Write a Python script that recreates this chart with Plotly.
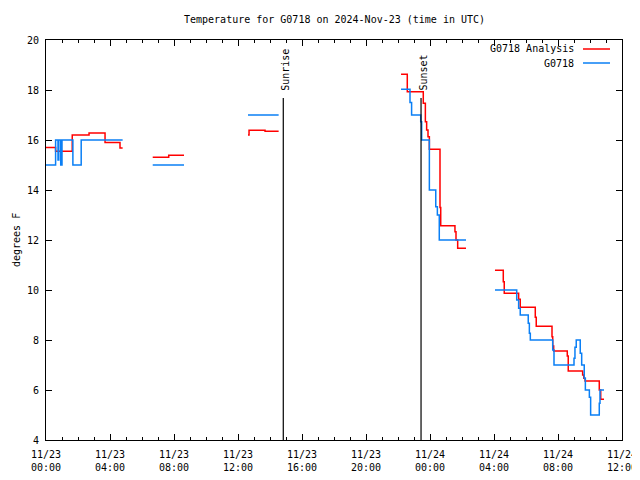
import plotly.graph_objects as go

# hours since 2024-11-23 00:00 UTC ; None separates gaps
analysis_t = [0.0, 0.6, 1.64, 2.69, 3.69, 4.625, 4.79, None,
              6.67, 7.67, 8.625, None,
              12.625, 12.69, 13.69, 14.54, None,
              22.19, 22.58, 23.58, 23.71, 23.79, 23.875, 23.96, 24.625, 24.67, 25.56, 25.625, 25.73, 26.25, None,
              28.06, 28.58, 28.64, 29.54, 29.64, 30.58, 30.64, 31.625, 31.67, 31.73, 32.58, 32.64, 33.54, 33.61, 33.69, 34.58, 34.67, 34.875]
analysis_v = [15.7, 15.55, 16.2, 16.28, 15.9, 15.68, 15.68, None,
              15.31, 15.39, 15.39, None,
              16.2, 16.39, 16.35, 16.35, None,
              18.63, 17.93, 17.47, 16.73, 16.4, 16.13, 15.63, 13.3, 12.57, 12.33, 12.0, 11.67, 11.67, None,
              10.79, 10.33, 9.87, 9.63, 9.31, 8.91, 8.55, 8.13, 7.76, 7.56, 7.36, 6.76, 6.6, 6.47, 6.36, 6.0, 5.63, 5.63]

obs_t = [0.0, 0.6, 0.75, 0.8, 0.92, 1.0, 1.68, 2.2, 4.79, None,
         6.67, 8.625, None,
         12.625, 14.54, None,
         22.19, 22.75, 22.85, 23.42, 23.48, 23.96, 24.36, 24.46, 24.58, 26.25, None,
         28.06, 29.42, 29.54, 29.64, 30.14, 30.21, 30.27, 31.67, 31.75, 33.0, 33.06, 33.14, 33.39, 33.48, 33.64, 33.71, 33.96, 34.04, 34.58, 34.625, 34.875]
obs_v = [15.0, 16.0, 15.2, 16.0, 15.0, 16.0, 15.0, 16.0, 16.0, None,
         15.0, 15.0, None,
         17.0, 17.0, None,
         18.03, 17.5, 17.0, 16.73, 16.0, 14.0, 13.33, 13.0, 12.0, 12.0, None,
         10.0, 9.6, 9.27, 9.0, 8.67, 8.27, 8.0, 7.6, 7.0, 7.27, 7.71, 8.0, 7.47, 7.0, 6.47, 6.0, 5.71, 5.0, 5.47, 6.0, 6.0]

sun_events = ["Sunrise", "Sunset"]
sun_times = [14.83, 23.44]
sun_line_top = 17.68

tick_hours = [0, 4, 8, 12, 16, 20, 24, 28, 32, 36]
tick_labels = ["11/23<br>00:00", "11/23<br>04:00", "11/23<br>08:00", "11/23<br>12:00",
               "11/23<br>16:00", "11/23<br>20:00", "11/24<br>00:00", "11/24<br>04:00",
               "11/24<br>08:00", "11/24<br>12:00"]
series_names = ["G0718 Analysis", "G0718"]
colors = ["#ff0000", "#0a7ff5"]

FONT = "DejaVu Sans Mono"

fig = go.Figure()
fig.add_trace(go.Scatter(x=analysis_t, y=analysis_v, mode="lines", line_shape="hv",
                         line=dict(color=colors[0], width=1.5), name=series_names[0],
                         connectgaps=False))
fig.add_trace(go.Scatter(x=obs_t, y=obs_v, mode="lines", line_shape="hv",
                         line=dict(color=colors[1], width=1.5), name=series_names[1],
                         connectgaps=False))

shapes = []
annotations = []
for name, t in zip(sun_events, sun_times):
    shapes.append(dict(type="line", xref="x", yref="y", x0=t, x1=t, y0=4, y1=sun_line_top,
                       line=dict(color="black", width=1.2)))
    annotations.append(dict(x=t, y=17.9, xref="x", yref="y", text=name, textangle=-90,
                            showarrow=False, xanchor="center", yanchor="bottom", xshift=2,
                            font=dict(family=FONT, size=10, color="black")))

# page body has an 8px margin: figure is offset by (8, 8) in the window
OFF = 8
FIG_W, FIG_H = 640 - OFF, 480 - OFF
L, T, W, H = 46 - OFF, 40 - OFF, 576, 400
R, B = FIG_W - L - W, FIG_H - T - H

def px(xw):  # window x -> paper x
    return (xw - OFF - L) / W

def py(yw):  # window y -> paper y
    return (T + H - (yw - OFF)) / H

for i, name in enumerate(series_names):
    ypix = 49 + i * 14
    annotations.append(dict(x=px(576), y=py(ypix), xref="paper", yref="paper", text=name,
                            showarrow=False, xanchor="right", yanchor="middle",
                            font=dict(family=FONT, size=10, color="black")))
    shapes.append(dict(type="line", xref="paper", yref="paper", x0=px(583), x1=px(610),
                       y0=py(ypix), y1=py(ypix), line=dict(color=colors[i], width=1.5)))

annotations.append(dict(x=px(16), y=0.5, xref="paper", yref="paper", text="degrees F",
                        textangle=-90, showarrow=False, xanchor="center", yanchor="middle",
                        font=dict(family=FONT, size=10, color="black")))
annotations.append(dict(x=0.5, y=py(19), xref="paper", yref="paper",
                        text="Temperature for G0718 on 2024-Nov-23 (time in UTC)",
                        showarrow=False, xanchor="center", yanchor="middle",
                        font=dict(family=FONT, size=10, color="black")))

fig.update_layout(
    width=FIG_W, height=FIG_H,
    margin=dict(l=L, r=R, t=T, b=B, autoexpand=False),
    paper_bgcolor="white", plot_bgcolor="white",
    showlegend=False,
    font=dict(family=FONT, size=10, color="black"),
    shapes=shapes, annotations=annotations,
    xaxis=dict(range=[0, 36], tickvals=tick_hours, ticktext=tick_labels, ticks="inside",
               ticklen=6, tickcolor="black", showline=True, linecolor="black", linewidth=1,
               mirror="allticks", showgrid=False, zeroline=False, automargin=False,
               ticklabelstandoff=5,
               minor=dict(dtick=1, tick0=0, ticks="inside", ticklen=3, tickcolor="black", showgrid=False)),
    yaxis=dict(range=[4, 20], dtick=2, tick0=4, ticks="inside", ticklen=6, tickcolor="black",
               showline=True, linecolor="black", linewidth=1, mirror="allticks",
               showgrid=False, zeroline=False, automargin=False, ticklabelstandoff=4),
)

fig.write_html("out.html")
